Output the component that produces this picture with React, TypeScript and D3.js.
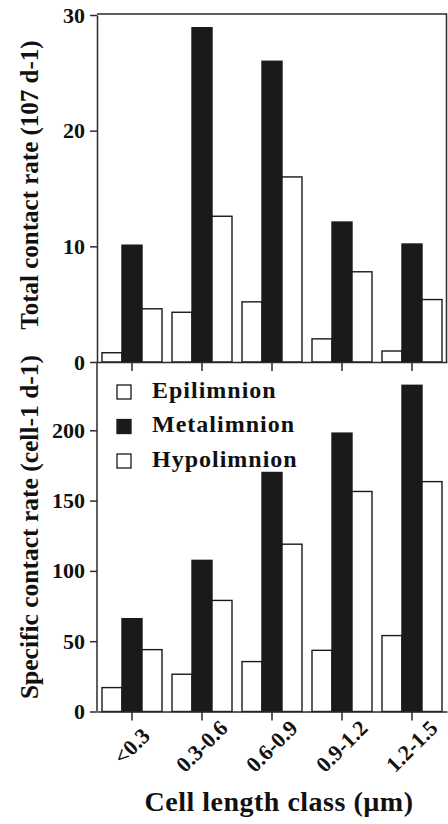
import React, { useEffect, useRef } from 'react';
import * as d3 from 'd3';

// cell length classes (µm)
const CLASSES = ['<0.3', '0.3-0.6', '0.6-0.9', '0.9-1.2', '1.2-1.5'];
const LAYERS = ['Epilimnion', 'Metalimnion', 'Hypolimnion'];

// total contact rate (10^7 d-1)
const TOTAL_EPI = [0.8, 4.3, 5.2, 2.0, 0.95];
const TOTAL_META = [10.1, 28.9, 26.0, 12.1, 10.2];
const TOTAL_HYPO = [4.6, 12.6, 16.0, 7.8, 5.4];

// specific contact rate (cell-1 d-1)
const SPEC_EPI = [17, 26.5, 35.5, 43.5, 54];
const SPEC_META = [66, 107.5, 170, 198, 232];
const SPEC_HYPO = [44, 79, 119, 156.5, 163.5];

const TOP_TICKS = [0, 10, 20, 30];
const BOTTOM_TICKS = [0, 50, 100, 150, 200];

const FILLS: Record<string, string> = {
  Epilimnion: '#ffffff',
  Metalimnion: '#1a1a1a',
  Hypolimnion: '#ffffff',
};

const FONT = '"Liberation Serif", "Times New Roman", serif';

const App: React.FC = () => {
  const svgRef = useRef<SVGSVGElement>(null);

  useEffect(() => {
    if (!svgRef.current) return;
    const svg = d3.select(svgRef.current);
    svg.selectAll('*').remove();

    const left = 97;
    const right = 447;

    const x = d3.scaleBand<string>()
      .domain(CLASSES)
      .range([left, right])
      .paddingInner(1 / 7)
      .paddingOuter(1 / 14);

    const xs = d3.scaleBand<string>()
      .domain(LAYERS)
      .range([0, x.bandwidth()]);

    const yTop = d3.scaleLinear().domain([0, 30]).range([362, 15]);
    const yBot = d3.scaleLinear().domain([0, 250]).range([711.5, 360]);

    const topRows = CLASSES.map((c, i) => ({
      cls: c,
      vals: [TOTAL_EPI[i], TOTAL_META[i], TOTAL_HYPO[i]],
    }));
    const botRows = CLASSES.map((c, i) => ({
      cls: c,
      vals: [SPEC_EPI[i], SPEC_META[i], SPEC_HYPO[i]],
    }));

    const drawBars = (rows: typeof topRows, y: d3.ScaleLinear<number, number>) => {
      const g = svg.append('g');
      rows.forEach(r => {
        r.vals.forEach((v, j) => {
          const layer = LAYERS[j];
          g.append('rect')
            .attr('x', x(r.cls)! + xs(layer)!)
            .attr('y', y(v))
            .attr('width', xs.bandwidth())
            .attr('height', y(0) - y(v))
            .attr('fill', FILLS[layer])
            .attr('stroke', '#1a1a1a')
            .attr('stroke-width', 1.4);
        });
      });
    };

    drawBars(topRows, yTop);
    drawBars(botRows, yBot);

    const styleAxis = (g: d3.Selection<SVGGElement, unknown, null, undefined>, size: number) => {
      g.selectAll('path, line').attr('stroke', '#2a2a2a').attr('stroke-width', 1.5);
      g.selectAll('text')
        .attr('fill', '#111')
        .style('font-family', FONT)
        .style('font-weight', 'bold')
        .style('font-size', `${size}px`);
    };

    // y axes
    const gyTop = svg.append('g')
      .attr('transform', `translate(${left},0)`)
      .call(d3.axisLeft(yTop).tickValues(TOP_TICKS).tickSize(7).tickSizeOuter(0).tickPadding(5));
    styleAxis(gyTop, 22);

    const gyBot = svg.append('g')
      .attr('transform', `translate(${left},0)`)
      .call(d3.axisLeft(yBot).tickValues(BOTTOM_TICKS).tickSize(7).tickSizeOuter(0).tickPadding(5));
    gyBot.select('.domain').attr('d', `M0,${yBot(0)}V${yTop(0)}`);
    styleAxis(gyBot, 22);

    // x axes (ticks only in top panel, labelled in bottom)
    const gxTop = svg.append('g')
      .attr('transform', `translate(0,${yTop(0)})`)
      .call(d3.axisBottom(x).tickSize(9).tickSizeOuter(0).tickFormat(() => ''));
    styleAxis(gxTop, 18);

    const gxBot = svg.append('g')
      .attr('transform', `translate(0,${yBot(0)})`)
      .call(d3.axisBottom(x).tickSize(9).tickSizeOuter(0));
    styleAxis(gxBot, 22);
    gxBot.selectAll<SVGTextElement, string>('text')
      .attr('text-anchor', 'middle')
      .attr('dy', null)
      .attr('y', null)
      .attr('transform', 'translate(5,40) rotate(-45)');

    // frame of the top panel
    svg.append('path')
      .attr('d', `M${left},${yTop(30) - 1}H${right - 0.5}V${yTop(0)}`)
      .attr('fill', 'none')
      .attr('stroke', '#2a2a2a')
      .attr('stroke-width', 1.5);

    // axis titles
    const title = (txt: string, tx: number, ty: number, rot: number, size: number) =>
      svg.append('text')
        .attr('transform', `translate(${tx},${ty}) rotate(${rot})`)
        .attr('text-anchor', 'middle')
        .style('font-family', FONT)
        .style('font-weight', 'bold')
        .style('font-size', `${size}px`)
        .attr('fill', '#111')
        .text(txt);

    title('Total contact rate (107 d-1)', 38, 185, -90, 25);
    title('Specific contact rate (cell-1 d-1)', 38, 527, -90, 25.5);
    title('Cell length class (\u00b5m)', 279, 811, 0, 28)
      .style('letter-spacing', '0.5px');

    // legend
    const legend = svg.append('g').attr('transform', 'translate(117,385)');
    LAYERS.forEach((l, i) => {
      const row = legend.append('g').attr('transform', `translate(0,${i * 34.5})`);
      row.append('rect')
        .attr('width', 14)
        .attr('height', 14)
        .attr('fill', FILLS[l])
        .attr('stroke', '#1a1a1a')
        .attr('stroke-width', 1.3);
      row.append('text')
        .attr('x', 35)
        .attr('y', 12.5)
        .style('font-family', FONT)
        .style('font-weight', 'bold')
        .style('font-size', '24px')
        .style('letter-spacing', '1px')
        .attr('fill', '#111')
        .text(l);
    });
  }, []);

  return (
    <svg
      ref={svgRef}
      width={448}
      height={824}
      viewBox="0 0 448 824"
      style={{ position: 'absolute', left: 0, top: 0, background: '#fff' }}
    />
  );
};

export default App;
